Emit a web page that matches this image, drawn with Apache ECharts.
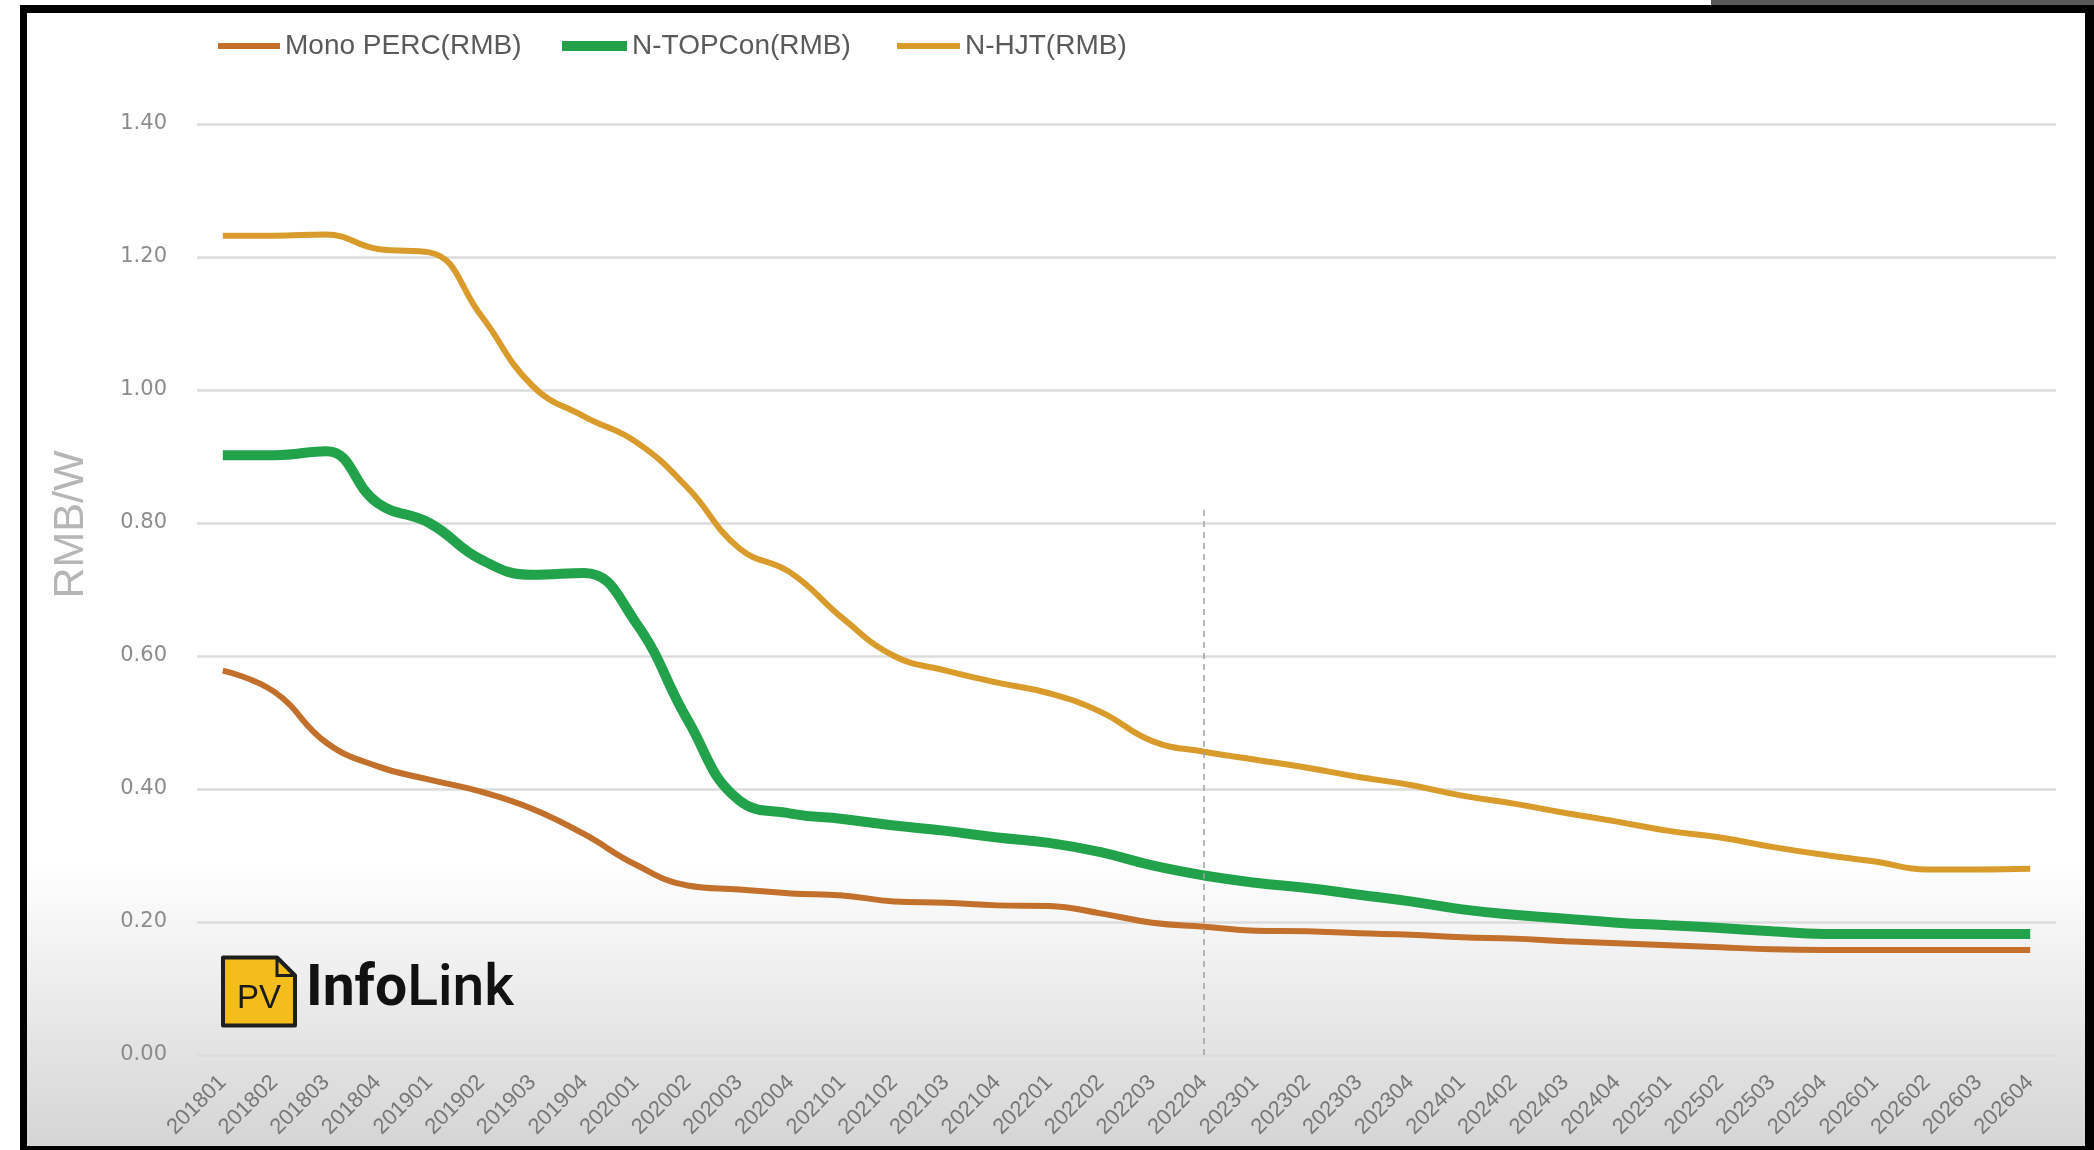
<!DOCTYPE html>
<html>
<head>
<meta charset="utf-8">
<title>Module price outlook</title>
<script src="https://cdn.jsdelivr.net/npm/echarts@6/dist/echarts.min.js"></script>
<style>
  html, body { margin: 0; padding: 0; background: #ffffff; }
  #chart { width: 2094px; height: 1150px; }
</style>
</head>
<body>
<div id="chart"></div>
<script>
// Quarter categories, 2018 Q1 .. 2026 Q4
const quarters = [
  '201801','201802','201803','201804',
  '201901','201902','201903','201904',
  '202001','202002','202003','202004',
  '202101','202102','202103','202104',
  '202201','202202','202203','202204',
  '202301','202302','202303','202304',
  '202401','202402','202403','202404',
  '202501','202502','202503','202504',
  '202601','202602','202603','202604'
];

// Module prices, RMB/W
const monoPerc = [
  0.578, 0.546, 0.470, 0.434,
  0.414, 0.396, 0.370, 0.332,
  0.286, 0.255, 0.249, 0.243,
  0.240, 0.231, 0.229, 0.225,
  0.224, 0.213, 0.199, 0.193,
  0.187, 0.186, 0.183, 0.181,
  0.177, 0.175, 0.171, 0.168,
  0.165, 0.162, 0.159, 0.158,
  0.158, 0.158, 0.158, 0.158
];
const nTopcon = [
  0.902, 0.902, 0.908, 0.830,
  0.800, 0.745, 0.722, 0.725,
  0.650, 0.504, 0.383, 0.363,
  0.355, 0.345, 0.337, 0.327,
  0.319, 0.305, 0.285, 0.270,
  0.259, 0.251, 0.241, 0.231,
  0.219, 0.211, 0.205, 0.199,
  0.195, 0.191, 0.186, 0.182,
  0.182, 0.182, 0.182, 0.182
];
const nHjt = [
  1.232, 1.232, 1.234, 1.212,
  1.207, 1.112, 1.006, 0.960,
  0.922, 0.853, 0.762, 0.725,
  0.657, 0.600, 0.578, 0.560,
  0.544, 0.516, 0.472, 0.456,
  0.444, 0.432, 0.418, 0.406,
  0.390, 0.378, 0.364, 0.351,
  0.337, 0.327, 0.313, 0.301,
  0.291, 0.279, 0.279, 0.280
];

// Value axis ticks
const yTicks = [0, 0.2, 0.4, 0.6, 0.8, 1.0, 1.2, 1.4];

// Start of the forecast period and the height of its divider
const forecastStart = '202204';
const dividerTop = 0.82;

const seriesNames = ['Mono PERC(RMB)', 'N-TOPCon(RMB)', 'N-HJT(RMB)'];
const seriesColors = ['#c2702c', '#22a34b', '#d99b2c'];
const seriesWidths = [6, 10, 6];

const sansFont = "'Liberation Sans', Arial, sans-serif";
const tickFont = "'DejaVu Sans', 'Liberation Sans', sans-serif";

// one legend block per series so each key keeps its own stroke weight
const legendLefts = [218, 562, 897];
const legendIconWidths = [62, 65, 63];
const legends = seriesNames.map((name, i) => ({
  left: legendLefts[i],
  top: 32,
  padding: 0,
  icon: 'rect',
  itemWidth: legendIconWidths[i],
  itemHeight: seriesWidths[i],
  itemGap: 0,
  selectedMode: false,
  textStyle: { fontFamily: sansFont, fontSize: 28, color: '#5a5a5a' },
  data: [name]
}));

const chart = echarts.init(document.getElementById('chart'), null, { renderer: 'canvas' });

const option = {
  backgroundColor: '#ffffff',
  animation: false,
  legend: legends,
  grid: { left: 197, right: 38, top: 124, bottom: 95, containLabel: false },
  xAxis: {
    type: 'category',
    data: quarters,
    boundaryGap: true,
    axisLine: { show: false },
    axisTick: { show: false },
    axisLabel: {
      rotate: 45,
      margin: 24,
      interval: 0,
      fontFamily: sansFont,
      fontSize: 22,
      color: '#787878'
    }
  },
  yAxis: {
    type: 'value',
    min: yTicks[0],
    max: yTicks[yTicks.length - 1],
    interval: 0.2,
    name: 'RMB/W',
    nameLocation: 'middle',
    nameRotate: 90,
    nameGap: 104,
    nameTextStyle: {
      fontFamily: sansFont,
      fontSize: 43,
      color: '#b6b6b6',
      padding: [0, 0, 0, 130]
    },
    axisLine: { show: false },
    axisTick: { show: false },
    axisLabel: {
      margin: 30,
      fontFamily: tickFont,
      fontSize: 21,
      color: '#8c8c8c',
      formatter: v => v.toFixed(2)
    },
    splitLine: { lineStyle: { color: '#dcdcdc', width: 2.5 } }
  },
  series: [
    {
      name: seriesNames[0],
      type: 'line',
      data: monoPerc,
      smooth: 0.45,
      symbol: 'none',
      color: seriesColors[0],
      lineStyle: { width: seriesWidths[0], color: seriesColors[0] },
      z: 3,
      markLine: {
        silent: true,
        symbol: 'none',
        label: { show: false },
        lineStyle: { type: [6, 5], color: '#a0a0a0', width: 1.5 },
        data: [[
          { coord: [forecastStart, 0] },
          { coord: [forecastStart, dividerTop] }
        ]]
      }
    },
    {
      name: seriesNames[1],
      type: 'line',
      data: nTopcon,
      smooth: 0.45,
      symbol: 'none',
      color: seriesColors[1],
      lineStyle: { width: seriesWidths[1], color: seriesColors[1] },
      z: 4
    },
    {
      name: seriesNames[2],
      type: 'line',
      data: nHjt,
      smooth: 0.45,
      symbol: 'none',
      color: seriesColors[2],
      lineStyle: { width: seriesWidths[2], color: seriesColors[2] },
      z: 3
    }
  ],
  graphic: [
    // soft shading along the bottom edge
    {
      type: 'rect',
      z: -10,
      silent: true,
      shape: { x: 20, y: 860, width: 2074, height: 290 },
      style: {
        fill: new echarts.graphic.LinearGradient(0, 0, 0, 1, [
          { offset: 0, color: 'rgba(0,0,0,0)' },
          { offset: 1, color: 'rgba(0,0,0,0.17)' }
        ])
      }
    },
    // black frame
    { type: 'rect', z: 100, silent: true, shape: { x: 20, y: 5, width: 7, height: 1145 }, style: { fill: '#000' } },
    { type: 'rect', z: 100, silent: true, shape: { x: 20, y: 5, width: 2074, height: 8 }, style: { fill: '#000' } },
    { type: 'rect', z: 100, silent: true, shape: { x: 2085, y: 5, width: 9, height: 1145 }, style: { fill: '#000' } },
    { type: 'rect', z: 100, silent: true, shape: { x: 20, y: 1146, width: 2074, height: 4 }, style: { fill: '#000' } },
    { type: 'rect', z: 100, silent: true, shape: { x: 1711, y: 0, width: 383, height: 5 }, style: { fill: '#5a5a5a' } },
    // brand mark
    {
      type: 'group',
      left: 221,
      top: 955,
      z: 50,
      children: [
        {
          type: 'polygon',
          shape: { points: [[2, 2], [56, 2], [74, 20], [74, 70], [2, 70]] },
          style: { fill: '#f3bd1c', stroke: '#1e1e1e', lineWidth: 4, lineJoin: 'round' }
        },
        {
          type: 'polyline',
          shape: { points: [[56, 2], [56, 20], [74, 20]] },
          style: { fill: null, stroke: '#1e1e1e', lineWidth: 3 }
        },
        {
          type: 'text',
          x: 38,
          y: 43,
          style: {
            text: 'PV',
            fill: '#1a1a1a',
            font: "33px 'Liberation Sans', sans-serif",
            align: 'center',
            verticalAlign: 'middle'
          }
        }
      ]
    },
    {
      type: 'text',
      left: 306,
      top: 962,
      z: 50,
      style: {
        text: '{b|Info}{r|Link}',
        rich: {
          b: { fontFamily: 'Roboto, sans-serif', fontWeight: 'bold', fontSize: 57, fill: '#111' },
          r: { fontFamily: 'Roboto, sans-serif', fontWeight: 500, fontSize: 57, fill: '#111' }
        }
      }
    }
  ]
};

chart.setOption(option);
</script>
</body>
</html>
